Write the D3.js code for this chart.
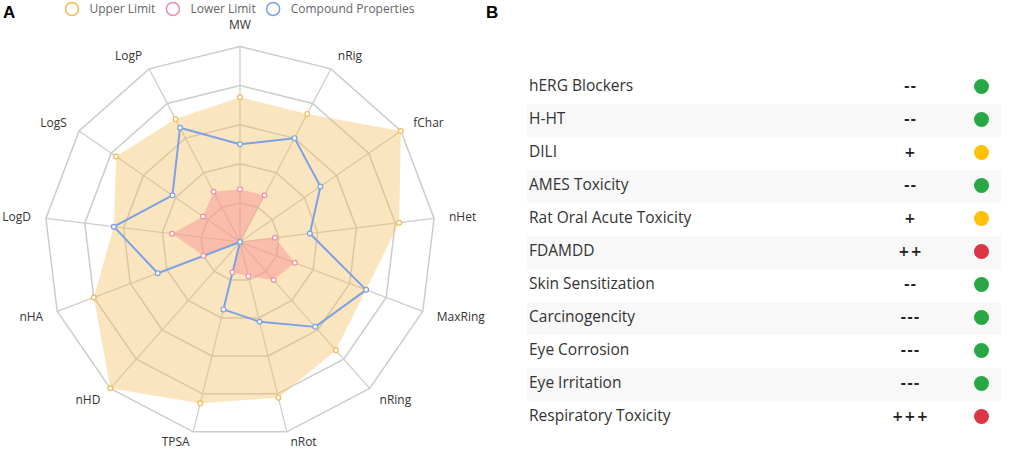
<!DOCTYPE html>
<html>
<head>
<meta charset="utf-8">
<script src="https://cdn.jsdelivr.net/npm/d3@7"></script>
<style>
  html, body { margin: 0; padding: 0; background: #fff; }
  svg { display: block; }
</style>
</head>
<body>
<svg id="chart" width="1024" height="452"></svg>
<script>
// Radar axes (clockwise from top)
const axes = ['MW', 'nRig', 'fChar', 'nHet', 'MaxRing', 'nRing', 'nRot', 'TPSA', 'nHD', 'nHA', 'LogD', 'LogS', 'LogP'];

// Normalised values (0 = centre, 1 = outer ring)
const upperLimit = [0.74, 0.74, 1.00, 0.82, 0.69, 0.74, 0.82, 0.85, 1.00, 0.80, 0.65, 0.77, 0.71];
const lowerLimit = [0.27, 0.27, 0.00, 0.18, 0.30, 0.26, 0.18, 0.16, 0.00, 0.20, 0.35, 0.23, 0.29];
const compound   = [0.50, 0.60, 0.50, 0.36, 0.69, 0.58, 0.42, 0.355, 0.00, 0.45, 0.65, 0.42, 0.66];

const seriesNames = ['Upper Limit', 'Lower Limit', 'Compound Properties'];

// Panel B
const toxNames = ['hERG Blockers', 'H-HT', 'DILI', 'AMES Toxicity', 'Rat Oral Acute Toxicity', 'FDAMDD',
  'Skin Sensitization', 'Carcinogencity', 'Eye Corrosion', 'Eye Irritation', 'Respiratory Toxicity'];
const toxSymbols = ['--', '--', '+', '--', '+', '++', '--', '---', '---', '---', '+++'];
const toxLevels = ['green', 'green', 'yellow', 'green', 'yellow', 'red', 'green', 'green', 'green', 'green', 'red'];

const svg = d3.select('#chart');

// ---- styles
const seriesColors = ['#f2bb52', '#f08ea6', '#7ba2e6'];
const levelColor = d3.scaleOrdinal()
  .domain(['green', 'yellow', 'red'])
  .range(['#28a745', '#ffc107', '#dc3545']);

// ---- panel labels
svg.append('text').attr('x', 3).attr('y', 17.5)
  .style('font', 'bold 17px "Liberation Sans", Arial, sans-serif').text('A');
svg.append('text').attr('x', 486).attr('y', 17.5)
  .style('font', 'bold 17px "Liberation Sans", Arial, sans-serif').text('B');

// ---- legend
const legend = svg.append('g').attr('transform', 'translate(59.5, 9)');
let lx = 0;
seriesNames.forEach((name, i) => {
  const g = legend.append('g').attr('transform', `translate(${lx},0)`);
  g.append('circle').attr('cx', 12.5).attr('cy', 0).attr('r', 6.5)
    .attr('fill', '#fff').attr('stroke', seriesColors[i]).attr('stroke-width', 1.5);
  const t = g.append('text').attr('x', 30).attr('y', 0).attr('dy', '0.35em')
    .style('font', '12px "Open Sans", sans-serif').attr('fill', '#666').text(name);
  lx += 30 + t.node().getComputedTextLength() + 5;
});

// ---- radar
const cx = 240, cy = 242, R = 195.5;
const n = axes.length;
const angle = d3.scaleLinear().domain([0, n]).range([0, 2 * Math.PI]);
const radius = d3.scaleLinear().domain([0, 1]).range([0, R]);
const rings = d3.range(1, 6).map(k => k / 5);

const radar = svg.append('g').attr('transform', `translate(${cx},${cy})`);

const radial = d3.lineRadial()
  .angle((d, i) => angle(i))
  .radius(d => radius(d))
  .curve(d3.curveLinearClosed);

// grid rings
radar.append('g').selectAll('path')
  .data(rings)
  .join('path')
  .attr('d', r => radial(axes.map(() => r)))
  .attr('fill', 'none')
  .attr('stroke', '#cccccc')
  .attr('stroke-width', 1.5);

// spokes
radar.append('g').selectAll('line')
  .data(axes)
  .join('line')
  .attr('x1', 0).attr('y1', 0)
  .attr('x2', (d, i) => radius(1) * Math.sin(angle(i)))
  .attr('y2', (d, i) => -radius(1) * Math.cos(angle(i)))
  .attr('stroke', '#cccccc')
  .attr('stroke-width', 1.2);

// axis names
radar.append('g').selectAll('text')
  .data(axes)
  .join('text')
  .each(function (d, i) {
    const a = angle(i);
    const x = (R + 15) * Math.sin(a);
    const y = Math.min(-(R + 15) * Math.cos(a), 200);
    const t = d3.select(this).attr('x', x);
    if (i === 0) {
      t.attr('y', y - 3).attr('text-anchor', 'middle');
    } else {
      t.attr('y', y).attr('dy', '0.35em').attr('text-anchor', x > 0 ? 'start' : 'end');
    }
  })
  .style('font', '12px "Open Sans", sans-serif')
  .attr('fill', '#333')
  .text(d => d);

// areas
radar.append('path')
  .attr('d', radial(upperLimit))
  .attr('fill', 'rgba(244, 190, 92, 0.4)');
radar.append('path')
  .attr('d', radial(lowerLimit))
  .attr('fill', 'rgba(248, 140, 150, 0.45)');
radar.append('path')
  .attr('d', radial(compound))
  .attr('fill', 'none')
  .attr('stroke', seriesColors[2])
  .attr('stroke-width', 2)
  .attr('stroke-linejoin', 'round');

// markers
[upperLimit, lowerLimit, compound].forEach((vals, s) => {
  radar.append('g').selectAll('circle')
    .data(vals)
    .join('circle')
    .attr('cx', (d, i) => radius(d) * Math.sin(angle(i)))
    .attr('cy', (d, i) => -radius(d) * Math.cos(angle(i)))
    .attr('r', 2.4)
    .attr('fill', '#fff')
    .attr('stroke', seriesColors[s])
    .attr('stroke-width', 1.2);
});

// ---- panel B table
const rowY = d3.scaleBand().domain(d3.range(toxNames.length)).range([71, 71 + 33 * toxNames.length]);
const table = svg.append('g');
const rows = table.selectAll('g')
  .data(toxNames)
  .join('g')
  .attr('transform', (d, i) => `translate(0,${rowY(i)})`);

rows.append('rect')
  .attr('x', 527).attr('width', 474)
  .attr('height', rowY.bandwidth())
  .attr('fill', (d, i) => i % 2 ? '#f8f8f8' : 'none');

rows.append('text')
  .attr('x', 529).attr('y', rowY.bandwidth() / 2 - 1.5).attr('dy', '0.35em')
  .style('font', '15.5px "Open Sans", sans-serif')
  .attr('fill', '#333')
  .text(d => d);

rows.append('text')
  .attr('x', 910.5).attr('y', rowY.bandwidth() / 2 - 1.5).attr('dy', '0.35em')
  .attr('text-anchor', 'middle')
  .style('font', 'bold 13.5px "DejaVu Sans", sans-serif')
  .style('letter-spacing', '1px')
  .attr('fill', '#222')
  .text((d, i) => toxSymbols[i]);

rows.append('circle')
  .attr('cx', 981.5).attr('cy', rowY.bandwidth() / 2 - 1)
  .attr('r', 7.5)
  .attr('fill', (d, i) => levelColor(toxLevels[i]));
</script>
</body>
</html>
